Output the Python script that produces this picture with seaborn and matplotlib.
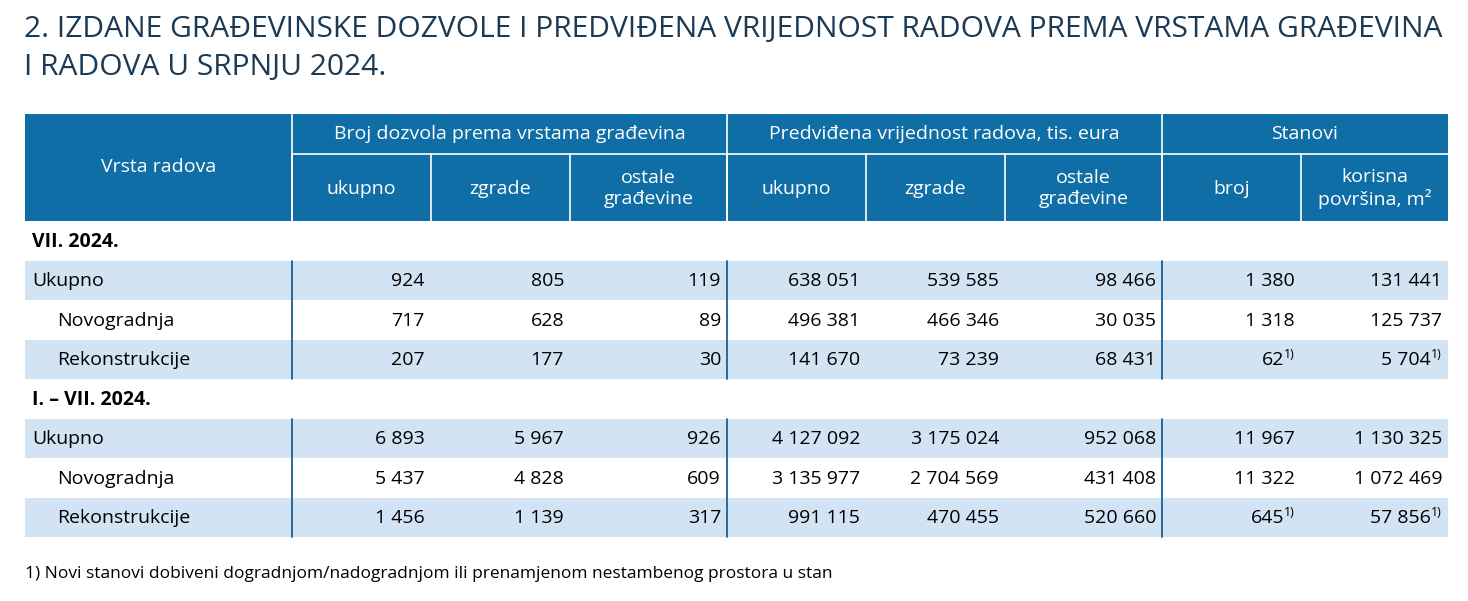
import numpy as np
import matplotlib.pyplot as plt
import seaborn as sns

sns.set_style("white")
plt.rcParams['font.family'] = ['Open Sans', 'DejaVu Sans']

# data
title = "2. IZDANE GRAĐEVINSKE DOZVOLE I PREDVIĐENA VRIJEDNOST RADOVA PREMA VRSTAMA GRAĐEVINA\nI RADOVA U SRPNJU 2024."
groups = ["Broj dozvola prema vrstama građevina", "Predviđena vrijednost radova, tis. eura", "Stanovi"]
subcols = ["ukupno", "zgrade", "ostale\ngrađevine", "ukupno", "zgrade", "ostale\ngrađevine",
           "broj", "korisna\npovršina, m²"]
periods = ["VII. 2024.", "I. – VII. 2024."]
row_labels = ["Ukupno", "Novogradnja", "Rekonstrukcije"]

vii_ukupno = [924, 805, 119, 638051, 539585, 98466, 1380, 131441]
vii_novogradnja = [717, 628, 89, 496381, 466346, 30035, 1318, 125737]
vii_rekonstrukcije = [207, 177, 30, 141670, 73239, 68431, 62, 5704]
cum_ukupno = [6893, 5967, 926, 4127092, 3175024, 952068, 11967, 1130325]
cum_novogradnja = [5437, 4828, 609, 3135977, 2704569, 431408, 11322, 1072469]
cum_rekonstrukcije = [1456, 1139, 317, 991115, 470455, 520660, 645, 57856]
footnote_cols = [6, 7]  # stanovi columns of Rekonstrukcije carry note 1)
footnote = "1) Novi stanovi dobiveni dogradnjom/nadogradnjom ili prenamjenom nestambenog prostora u stan"

blocks = [[vii_ukupno, vii_novogradnja, vii_rekonstrukcije],
          [cum_ukupno, cum_novogradnja, cum_rekonstrukcije]]

HEAD = "#0f6ea6"
BAND = "#d2e3f4"
TITLE_C = "#1c3a54"
LINE_C = "#1a5f96"

def fmt(v):
    return f"{v:,}".replace(",", " ")

fig = plt.figure(figsize=(14.68, 6.01), dpi=100)
ax = fig.add_axes([0, 0, 1, 1])
ax.set_xlim(0, 1468)
ax.set_ylim(601, 0)
ax.axis("off")

edges = [25, 292, 431, 570, 727, 866, 1005, 1162, 1301, 1448]
group_edges = [292, 727, 1162, 1448]
h_top, h_mid, h_bot = 114, 154, 221
row_h = 39.5
FS = 14

ax.text(24, 15, title, fontsize=21.6, color=TITLE_C, va="top", ha="left", linespacing=1.43)

# header
ax.add_patch(plt.Rectangle((edges[0], h_top), edges[-1] - edges[0], h_bot - h_top, color=HEAD, lw=0))
ax.plot([292, 1448], [h_mid, h_mid], color="white", lw=1.2)
for x in group_edges[:-1]:
    ax.plot([x, x], [h_top, h_bot], color="white", lw=1.2)
for x in edges[1:-1]:
    ax.plot([x, x], [h_mid, h_bot], color="white", lw=1.2)
ax.text((edges[0] + edges[1]) / 2, (h_top + h_bot) / 2, "Vrsta radova", color="white",
        fontsize=FS, ha="center", va="center")
for i, g in enumerate(groups):
    ax.text((group_edges[i] + group_edges[i + 1]) / 2, (h_top + h_mid) / 2, g, color="white",
            fontsize=FS, ha="center", va="center")
for i, s in enumerate(subcols):
    ax.text((edges[i + 1] + edges[i + 2]) / 2, (h_mid + h_bot) / 2 + 1, s, color="white",
            fontsize=FS, ha="center", va="center", linespacing=1.2)

# body
y = h_bot
for p, block in zip(periods, blocks):
    ax.text(32, y + row_h / 2 + 1, p, fontsize=FS, fontweight="bold", color="black", va="center")
    y += row_h
    y0 = y
    for r, (lab, vals) in enumerate(zip(row_labels, block)):
        if r != 1:
            ax.add_patch(plt.Rectangle((edges[0], y), edges[-1] - edges[0], row_h, color=BAND, lw=0))
        cy = y + row_h / 2 + 1
        ax.text(32 if r == 0 else 57, cy, lab, fontsize=FS, va="center", color="black")
        for c, v in enumerate(vals):
            xr = edges[c + 2] - 6
            if r == 2 and c in footnote_cols:
                ax.text(xr, cy - 6, "1)", fontsize=9, va="center", ha="right", color="black")
                xr -= 11
            ax.text(xr, cy, fmt(v), fontsize=FS, va="center", ha="right", color="black")
        y += row_h
    for x in group_edges[:-1]:
        ax.plot([x, x], [y0, y], color=LINE_C, lw=1.3)

ax.text(25, 574, footnote, fontsize=12.5, va="center", color="black")

fig.savefig("out.png", dpi=100)
